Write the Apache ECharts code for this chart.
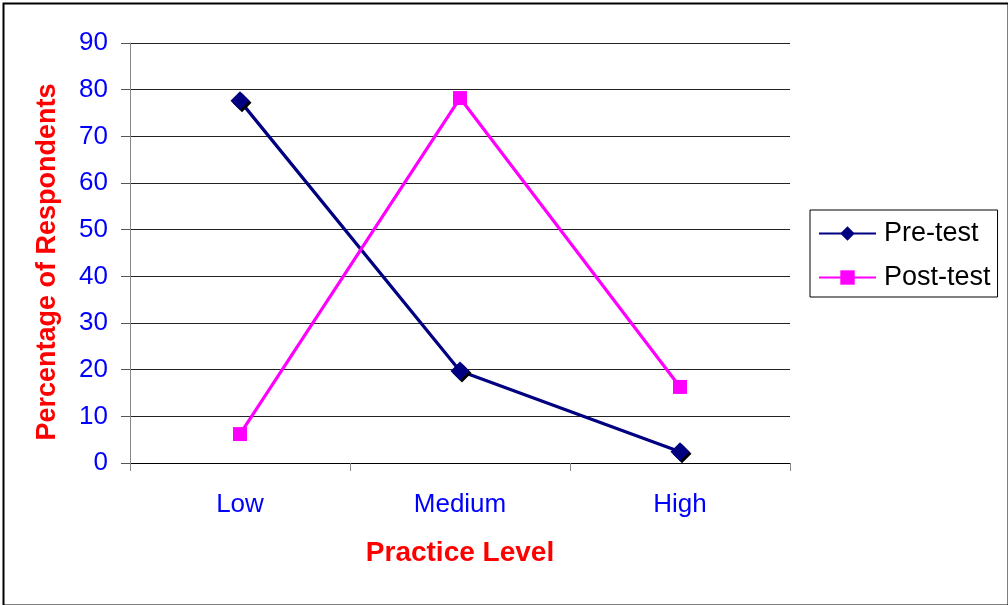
<!DOCTYPE html>
<html><head><meta charset="utf-8">
<script src="https://cdn.jsdelivr.net/npm/echarts@6/dist/echarts.min.js"></script>
<style>html,body{margin:0;padding:0;background:#fff}#c{width:1008px;height:605px}</style>
</head><body><div id="c"></div>
<script>
const categories = ['Low', 'Medium', 'High'];
const preTest = [77.6, 19.7, 2.4];
const postTest = [6.2, 78.2, 16.3];
const yTicks = { min: 0, max: 90, interval: 10 };

const chart = echarts.init(document.getElementById('c'));
const font = 'Liberation Sans, Arial, sans-serif';
chart.setOption({
  animation: false,
  backgroundColor: '#fff',
  graphic: [{ type: 'rect', left: 1, top: 1, shape: { x: 0, y: 0, width: 1005, height: 602 }, style: { fill: 'none', stroke: '#000', lineWidth: 2 }, silent: true }],
  grid: { left: 130, right: 218, top: 43, bottom: 142 },
  legend: {
    orient: 'vertical', left: 810, top: 210,
    data: ['Pre-test', 'Post-test'],
    borderColor: '#000', borderWidth: 1, padding: [10, 7, 6, 8],
    itemWidth: 57, itemHeight: 18, itemGap: 17,
    textStyle: { fontFamily: font, fontSize: 27, color: '#000', padding: [0, 0, 0, 3] }
  },
  xAxis: {
    type: 'category', data: categories, boundaryGap: true,
    name: 'Practice Level', nameLocation: 'middle', nameGap: 76,
    nameTextStyle: { fontFamily: font, fontSize: 28, fontWeight: 'bold', color: '#ff0000' },
    axisLine: { lineStyle: { color: '#000', width: 1 } },
    axisTick: { show: true, length: 8, lineStyle: { color: '#888' } },
    axisLabel: { fontFamily: font, fontSize: 26, color: '#0000ff', margin: 29 },
    splitLine: { show: false }
  },
  yAxis: {
    type: 'value', min: yTicks.min, max: yTicks.max, interval: yTicks.interval,
    name: 'Percentage of Respondents', nameLocation: 'middle', nameGap: 69,
    nameTextStyle: { fontFamily: font, fontSize: 27, fontWeight: 'bold', color: '#ff0000', padding: [0, 18, 0, 0] },
    axisLine: { show: true, lineStyle: { color: '#888', width: 1 } },
    axisTick: { show: true, length: 9, lineStyle: { color: '#555' } },
    axisLabel: { fontFamily: font, fontSize: 26, color: '#0000ff', margin: 22 },
    splitLine: { show: true, lineStyle: { color: '#222', width: 1 } }
  },
  series: [
    {
      name: 'Pre-test', type: 'line', data: preTest,
      symbol: 'diamond', symbolSize: 19,
      lineStyle: { color: '#000080', width: 3.2 },
      itemStyle: { color: '#000080', shadowColor: '#000', shadowOffsetX: 2, shadowOffsetY: 2, shadowBlur: 0 }
    },
    {
      name: 'Post-test', type: 'line', data: postTest,
      symbol: 'rect', symbolSize: 14,
      lineStyle: { color: '#ff00ff', width: 3.2 },
      itemStyle: { color: '#ff00ff' }
    }
  ]
});
</script></body></html>
